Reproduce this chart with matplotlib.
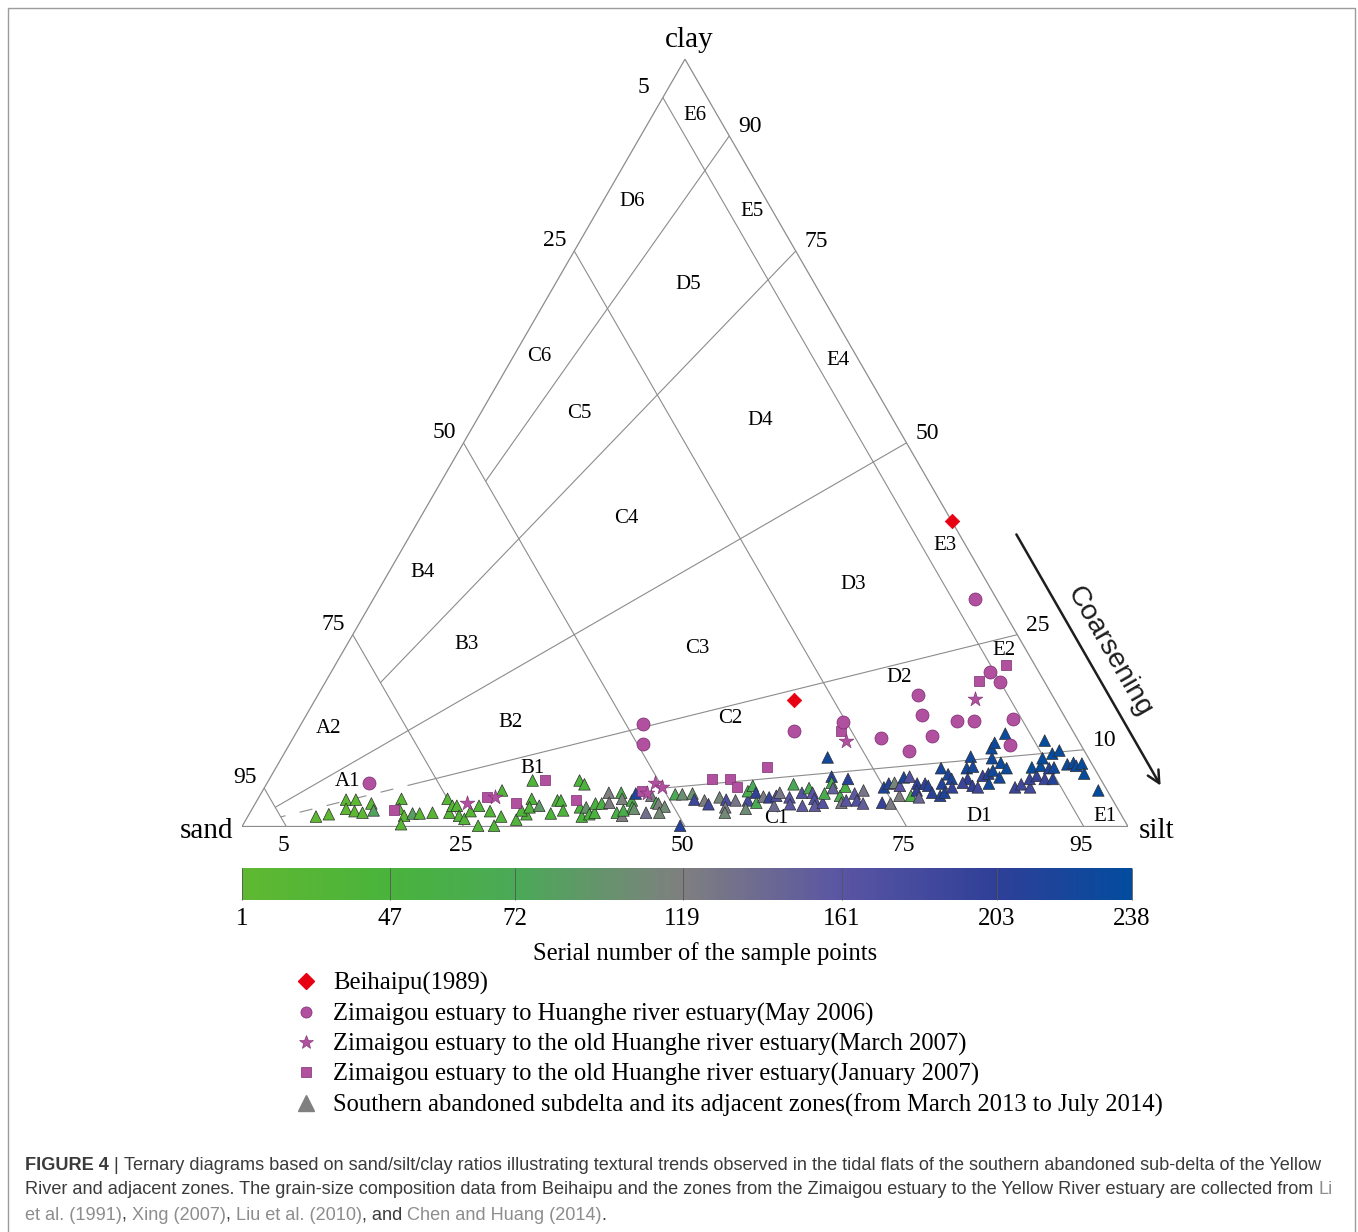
import numpy as np
import matplotlib
matplotlib.use("Agg")
import matplotlib.pyplot as plt
from matplotlib.colors import LinearSegmentedColormap, FuncNorm
from matplotlib.lines import Line2D
from matplotlib.patches import Rectangle, FancyArrowPatch
import matplotlib.cm as cm

plt.rcParams['font.family'] = ['Liberation Serif', 'DejaVu Serif']
plt.rcParams['lines.scale_dashes'] = False

# ---------------- data (silt %, clay %) ----------------
tri_silt = [7.7, 9.0, 10.0, 11.1, 10.6, 11.7, 12.7, 13.1, 13.8, 16.2, 16.6, 17.6, 17.8, 18.4, 19.2, 20.6, 21.4, 22.5, 22.4,
            22.9, 23.8, 24.6, 24.8, 25.4, 26.6, 27.0, 27.0, 28.6, 28.4, 30.5, 31.3, 30.5, 30.9, 31.2, 32.2, 29.8, 34.0, 33.9,
            34.3, 35.2, 35.1, 35.9, 36.9, 37.7, 37.6, 38.4, 38.9, 38.4, 39.1, 39.2, 39.9, 41.4, 40.6, 41.1, 42.2,
            42.3, 42.8, 42.3, 43.1, 42.0, 44.7, 44.2, 45.2, 45.5, 46.4, 46.2, 46.8, 47.6, 49.4, 48.7, 49.3, 50.5, 51.2,
            52.0, 52.9, 53.3, 53.6, 54.0, 55.4, 55.7, 54.8, 55.0, 55.8, 56.5, 56.9, 57.6, 58.7, 58.3, 58.5,
            61.6, 59.5, 59.9, 60.4, 61.0, 61.9, 61.5, 62.2, 62.8, 63.3, 64.0, 63.6, 63.3, 63.7, 64.2, 65.5, 66.1, 65.5,
            65.3, 66.5, 67.0, 67.7, 68.6, 67.8, 70.7, 69.9, 70.2, 71.7, 70.8, 72.2, 71.6, 71.5, 72.1, 73.5, 73.4, 73.8,
            74.5, 74.3, 74.8, 75.7, 76.8, 75.1, 76.2, 77.1, 76.3, 77.0,
            77.6, 77.7, 78.0, 78.6, 78.8, 78.5, 79.8, 80.5, 80.3, 80.8, 81.5, 81.1, 80.2, 79.5, 79.5, 80.1, 82.3, 81.5,
            82.5, 84.7, 85.2, 86.4, 85.8, 85.3, 86.4, 86.2, 85.9, 85.0, 87.5, 87.3, 86.7, 88.4, 87.8, 87.3, 89.1, 89.7,
            90.2, 90.7, 91.6, 94.3]
tri_clay = [1.3, 1.6, 3.5, 3.5, 2.3, 2.0, 1.8, 3.0, 2.1, 3.6, 2.3, 1.4, 0.3, 1.7, 1.7, 1.8, 3.6, 1.8, 2.7,
            2.7, 1.4, 1.0, 2.0, 2.7, 0.1, 2.0, 4.7, 1.3, 0.1, 0.9, 1.6, 2.1, 3.6, 2.5, 2.7, 6.0, 1.7, 3.4,
            3.4, 2.1, 6.0, 5.5, 2.5, 1.3, 2.5, 1.6, 1.8, 3.0, 3.0, 4.4, 3.1, 1.8, 4.4, 3.6, 1.4,
            3.4, 2.5, 4.3, 2.3, 2.1, 1.8, 4.0, 3.1, 3.0, 2.6, 1.8, 4.2, 4.2, 0.1, 4.3, 3.5, 3.4, 2.9,
            3.8, 3.5, 2.5, 1.8, 3.4, 3.4, 2.3, 4.6, 5.3, 4.4, 3.1, 3.9, 3.8, 2.7, 4.0, 4.4,
            9.0, 5.5, 3.8, 2.9, 4.4, 2.7, 5.0, 4.4, 3.6, 2.7, 3.1, 4.3, 6.5, 5.7, 5.0, 4.0, 3.1, 5.2,
            6.2, 3.4, 4.3, 3.4, 3.0, 4.7, 3.1, 5.1, 5.6, 3.0, 5.7, 4.0, 5.3, 6.4, 6.5, 4.0, 5.6, 4.7,
            3.8, 5.6, 5.3, 4.4, 4.0, 7.6, 5.6, 4.4, 6.8, 6.2,
            5.1, 9.1, 7.6, 7.8, 6.2, 5.7, 5.3, 5.1, 6.6, 6.9, 5.6, 7.3, 8.9, 10.2, 10.9, 12.1, 6.4, 8.3,
            7.6, 5.1, 5.5, 5.1, 6.2, 7.7, 6.6, 7.9, 8.9, 11.2, 6.2, 7.6, 9.5, 6.2, 7.7, 9.9, 8.1, 8.3,
            7.9, 8.2, 6.9, 4.7]
tri_serial = [1, 3, 5, 6, 4, 8, 9, 10, 80, 12, 14, 11, 15, 85, 13, 16, 17, 18, 20,
              22, 23, 24, 25, 26, 27, 28, 29, 30, 31, 32, 34, 33, 35, 36, 90, 37, 38, 39,
              40, 41, 42, 43, 44, 45, 95, 46, 48, 50, 52, 118, 122, 55, 57, 115, 120,
              60, 62, 215, 100, 59, 135, 120, 64, 116, 105, 108, 66, 102, 210, 98, 190, 122, 185,
              110, 175, 125, 106, 128, 180, 104, 68, 70, 200, 69, 124, 195, 140, 170, 127,
              225, 71, 165, 160, 168, 158, 67, 162, 172, 155, 166, 65, 212, 63, 150, 61, 126, 56,
              208, 163, 157, 169, 152, 130, 198, 218, 213, 123, 112, 121, 164, 220, 167, 54, 205, 202,
              145, 207, 209, 204, 211, 222, 214, 216, 219, 217,
              199, 224, 221, 223, 203, 192, 201, 188, 196, 210, 226, 227, 228, 229, 230, 231, 225, 232,
              233, 191, 186, 183, 194, 234, 197, 235, 236, 237, 193, 214, 238, 212, 226, 232, 228, 230,
              233, 235, 236, 238]

beihaipu_silt = [60.2, 54.0]
beihaipu_clay = [39.8, 16.5]

may2006_silt = [11.5, 38.6, 39.9, 56.1, 61.0, 66.4, 70.4, 67.7, 69.5, 72.0, 73.9, 75.8, 67.9, 74.4, 76.2, 80.0, 81.4]
may2006_clay = [5.7, 13.3, 10.7, 12.5, 13.6, 11.5, 9.8, 17.1, 14.5, 11.8, 13.7, 13.7, 29.6, 20.1, 18.8, 14.0, 10.6]

mar2007_silt = [23.9, 26.6, 43.8, 44.8, 43.5, 62.6, 74.4]
mar2007_clay = [3.1, 3.9, 5.7, 5.1, 4.4, 11.2, 16.6]

jan2007_silt = [16.1, 25.7, 29.4, 31.2, 36.0, 42.9, 50.0, 52.0, 53.3, 55.4, 61.4, 73.7, 75.7]
jan2007_clay = [2.1, 3.9, 3.1, 6.0, 3.5, 4.6, 6.2, 6.2, 5.1, 7.7, 12.5, 19.0, 21.1]

zone_names = ['E6', 'E5', 'E4', 'E3', 'E2', 'E1', 'D6', 'D5', 'D4', 'D3', 'D2', 'D1',
              'C6', 'C5', 'C4', 'C3', 'C2', 'C1', 'B4', 'B3', 'B2', 'B1', 'A2', 'A1']
zone_silt = [4.8, 17.5, 36.9, 61.0, 74.6, 96.7, 3.3, 15.1, 32.0, 53.2, 64.5, 82.6,
             2.9, 11.2, 23.3, 39.8, 48.1, 59.8, 3.8, 13.5, 23.6, 29.0, 3.4, 9.0]
zone_clay = [92.7, 80.2, 60.7, 36.6, 22.9, 1.3, 81.5, 70.6, 52.9, 31.5, 19.4, 1.3,
             61.3, 53.8, 40.1, 23.2, 14.1, 1.0, 33.1, 23.7, 13.5, 7.6, 12.8, 5.9]

sand_levels = [95, 75, 50, 25, 5]
ratio_levels = [10, 25, 50, 75, 90]          # clay/(silt+clay) %
ratio_sand_limit = [50, 77, 95, 75, 50]      # solid part ends at this sand %
bottom_ticks = [5, 25, 50, 75, 95]

cbar_ticks = [1, 47, 72, 119, 161, 203, 238]
cbar_pos = [0, 0.166, 0.307, 0.495, 0.674, 0.848, 1.0]   # where each tick sits along the bar
cbar_colors = ['#5fb832', '#49b33c', '#4aa957', '#7f7f80', '#5a55a3', '#2f3f97', '#034c9d']

legend_labels = ['Beihaipu(1989)',
                 'Zimaigou estuary to Huanghe river estuary(May 2006)',
                 'Zimaigou estuary to the old Huanghe river estuary(March 2007)',
                 'Zimaigou estuary to the old Huanghe river estuary(January 2007)',
                 'Southern abandoned subdelta and its adjacent zones(from March 2013 to July 2014)']

# ---------------- figure ----------------
W, H = 1358, 1232
fig = plt.figure(figsize=(W / 100, H / 100), dpi=100)
fig.patch.set_facecolor('white')
fig.add_artist(Rectangle((8 / W, -0.1), (1355 - 8) / W, 1 - 8 / H + 0.1,
                         transform=fig.transFigure, fill=False, edgecolor='#9c9c9c', lw=1))

ax = fig.add_axes([242 / W, (H - 826.5) / H, 886 / W, 767.3 / H])
ax.set_xlim(0, 1)
ax.set_ylim(0, np.sqrt(3) / 2)
ax.axis('off')


def tern(silt, clay):
    s = np.asarray(silt, dtype=float) / 100
    c = np.asarray(clay, dtype=float) / 100
    return s + c / 2, c * np.sqrt(3) / 2


def seg(p, q, **kw):
    x, y = tern([p[0], q[0]], [p[1], q[1]])
    ax.plot(x, y, color='#8c8c8c', lw=0.8, solid_capstyle='butt', **kw)


# outline
x, y = tern([0, 100, 0, 0], [0, 0, 100, 0])
ax.plot(x, y, color='#8c8c8c', lw=0.9)

for s in sand_levels:
    seg((0, 100 - s), (100 - s, 0))

for r, lim in zip(ratio_levels, ratio_sand_limit):
    c = 100 - lim
    seg((100 - r, r), ((100 - r) * c / 100, r * c / 100))
# dashed continuation of the 25 line inside zone A
seg((75 * 23 / 100, 25 * 23 / 100), (75 * 5 / 100, 25 * 5 / 100), dashes=(9.5, 10.5))

# edge numbers
for s in sand_levels:
    x, y = tern(0, 100 - s)
    ax.annotate(str(s), (x, y), xytext=(-14, 7.5), textcoords='offset points',
                ha='center', va='center', fontsize=17)
for r in ratio_levels:
    x, y = tern(100 - r, r)
    ax.annotate(str(r), (x, y), xytext=(15, 6.5), textcoords='offset points',
                ha='center', va='center', fontsize=17)
for b in bottom_ticks:
    x, y = tern(b, 0)
    ax.annotate(str(b), (x, y), xytext=(-2, -13.5), textcoords='offset points',
                ha='center', va='center', fontsize=17)

# corner names
ax.annotate('clay', tern(0, 100), xytext=(3, 14), textcoords='offset points',
            ha='center', va='center', fontsize=21)
ax.annotate('sand', tern(0, 0), xytext=(-6, -3.5), textcoords='offset points',
            ha='right', va='center', fontsize=21)
ax.annotate('silt', tern(100, 0), xytext=(8, -3.5), textcoords='offset points',
            ha='left', va='center', fontsize=21)

zx, zy = tern(zone_silt, zone_clay)
for name, a, b in zip(zone_names, zx, zy):
    ax.text(a, b, name, ha='center', va='center', fontsize=15)

# ---------------- points ----------------
cmap = LinearSegmentedColormap.from_list('serial', list(zip(cbar_pos, cbar_colors)))


def _fwd(v):
    return np.interp(v, cbar_ticks, cbar_pos)


def _inv(u):
    return np.interp(u, cbar_pos, cbar_ticks)


norm = FuncNorm((_fwd, _inv), vmin=1, vmax=238)
purple = '#b0509f'
purple_edge = '#7a2d6f'
red = '#e60012'

x, y = tern(tri_silt, tri_clay)
ax.scatter(x, y, c=tri_serial, cmap=cmap, norm=norm, marker='^', s=70,
           edgecolors='#2e2e2e', linewidths=0.5, clip_on=False, zorder=3)
x, y = tern(jan2007_silt, jan2007_clay)
ax.scatter(x, y, marker='s', s=58, c=purple, edgecolors=purple_edge, linewidths=0.5,
           clip_on=False, zorder=4)
x, y = tern(mar2007_silt, mar2007_clay)
ax.scatter(x, y, marker='*', s=125, c=purple, edgecolors=purple_edge, linewidths=0.4,
           clip_on=False, zorder=5)
x, y = tern(may2006_silt, may2006_clay)
ax.scatter(x, y, marker='o', s=88, c=purple, edgecolors=purple_edge, linewidths=0.5,
           clip_on=False, zorder=5)
x, y = tern(beihaipu_silt, beihaipu_clay)
ax.scatter(x, y, marker='D', s=55, c=red, edgecolors=red, linewidths=0.5,
           clip_on=False, zorder=6)

# ---------------- coarsening arrow ----------------
fig.add_artist(FancyArrowPatch(
    (1015 / W, (H - 532) / H), (1162 / W, (H - 788) / H), transform=fig.transFigure,
    arrowstyle='->', mutation_scale=22, lw=1.8, color='#1e1e1e'))
fig.text(1109 / W, (H - 652) / H, 'Coarsening', rotation=-60, rotation_mode='anchor',
         ha='center', va='center', fontsize=20.5, family=['Liberation Sans', 'DejaVu Sans'],
         color='#1e1e1e')

# ---------------- colorbar ----------------
cax = fig.add_axes([242 / W, (H - 900) / H, 890 / W, 32 / H])
sm = cm.ScalarMappable(norm=norm, cmap=cmap)
cb = fig.colorbar(sm, cax=cax, orientation='horizontal')
cb.outline.set_visible(False)
cb.set_ticks(cbar_ticks)
cb.set_ticklabels([str(t) for t in cbar_ticks])
cax.minorticks_off()
cax.tick_params(axis='x', which='both', direction='in', length=23, width=0.6, color='#555555',
                labelsize=18, pad=5.5)
fig.text(705 / W, (H - 954) / H, 'Serial number of the sample points',
         ha='center', va='center', fontsize=17.7)

# ---------------- legend ----------------
handles = [
    Line2D([], [], ls='none', marker='D', ms=8, mfc=red, mec=red),
    Line2D([], [], ls='none', marker='o', ms=8, mfc=purple, mec=purple_edge, mew=0.5),
    Line2D([], [], ls='none', marker='*', ms=10, mfc=purple, mec=purple_edge, mew=0.4),
    Line2D([], [], ls='none', marker='s', ms=6.5, mfc=purple, mec=purple_edge, mew=0.5),
    Line2D([], [], ls='none', marker='^', ms=11, mfc='#808080', mec='#808080'),
]
fig.legend(handles, legend_labels, loc='upper left', bbox_to_anchor=(293.7 / W, (H - 972) / H),
           frameon=False, fontsize=17.7, handlelength=1.0, handletextpad=0.6,
           labelspacing=0.3, borderpad=0, borderaxespad=0)

# ---------------- caption ----------------
cap_family = ['Liberation Sans Narrow', 'Liberation Sans', 'DejaVu Sans']
dark, link = '#3b3b3b', '#8d8d8d'
caption = [
    [('FIGURE 4 ', 'bold', dark), ('| ', 'normal', dark),
     ('Ternary diagrams based on sand/silt/clay ratios illustrating textural trends observed in the tidal '
      'flats of the southern abandoned sub-delta of the Yellow', 'normal', dark)],
    [('River and adjacent zones. The grain-size composition data from Beihaipu and the zones from the '
      'Zimaigou estuary to the Yellow River estuary are collected from ', 'normal', dark),
     ('Li', 'normal', link)],
    [('et al. (1991)', 'normal', link), (', ', 'normal', dark), ('Xing (2007)', 'normal', link),
     (', ', 'normal', dark), ('Liu et al. (2010)', 'normal', link), (', and ', 'normal', dark),
     ('Chen and Huang (2014)', 'normal', link), ('.', 'normal', dark)],
]
renderer = fig.canvas.get_renderer()


def width_of(s, weight, size):
    t = fig.text(0, 0, 'x' + s + 'x', fontsize=size, fontweight=weight, family=cap_family)
    t2 = fig.text(0, 0, 'xx', fontsize=size, fontweight=weight, family=cap_family)
    w = t.get_window_extent(renderer).width - t2.get_window_extent(renderer).width
    t.remove()
    t2.remove()
    return w


base = 12.0
w1 = sum(width_of(s, wt, base) for s, wt, _ in caption[0])
size = base * 1298 / w1
for line, yc in zip(caption, [1165, 1190, 1215]):
    xpos = 25
    for s, wt, col in line:
        fig.text(xpos / W, (H - yc) / H, s, fontsize=size, fontweight=wt, color=col,
                 family=cap_family, ha='left', va='center')
        xpos += width_of(s, wt, size)

fig.savefig('out.png', dpi=100, facecolor='white')
